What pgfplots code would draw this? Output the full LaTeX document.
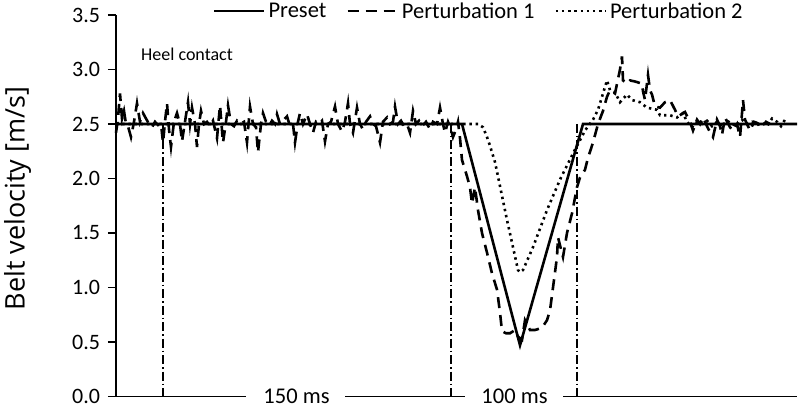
\documentclass[border=0pt]{standalone}
\usepackage{fontspec}
\setmainfont{Carlito}
\newfontfamily\labelfont{Open Sans}
\usepackage{pgfplots}
\pgfplotsset{compat=1.18}
\usepackage{pgfplotstable}

\pgfplotstableread{
x y
116 2.5
462 2.5
520 0.47
583 2.5
797 2.5
}\preset

\pgfplotstableread{
x y
116 2.42
118 2.55
120 2.78
122 2.55
124 2.62
126 2.5
128 2.48
131 2.38
134 2.52
137 2.69
140 2.52
143 2.6
146 2.55
149 2.5
152 2.47
155 2.52
158 2.49
161 2.5
163 2.33
165 2.52
167 2.69
169 2.45
171 2.29
174 2.52
177 2.6
180 2.5
182 2.34
185 2.52
188 2.7
190 2.5
192 2.65
195 2.5
197 2.29
199 2.5
201 2.62
204 2.5
207 2.52
210 2.48
213 2.53
217 2.37
220 2.67
223 2.33
226 2.52
228 2.67
231 2.5
234 2.48
237 2.53
240 2.5
244 2.52
247 2.33
250 2.66
253 2.5
256 2.47
258 2.24
261 2.5
263 2.6
266 2.52
269 2.48
272 2.53
275 2.5
277 2.59
280 2.5
283 2.53
287 2.57
290 2.48
293 2.5
295 2.33
298 2.52
300 2.6
303 2.5
307 2.59
310 2.5
313 2.42
316 2.52
319 2.5
322 2.53
325 2.34
328 2.5
331 2.52
335 2.66
338 2.5
342 2.43
345 2.52
348 2.69
350 2.5
353 2.42
357 2.65
360 2.5
363 2.45
366 2.52
370 2.57
373 2.5
376 2.48
380 2.33
383 2.52
387 2.56
390 2.5
393 2.52
395 2.66
398 2.5
401 2.53
404 2.48
407 2.5
410 2.42
413 2.62
416 2.5
419 2.53
422 2.48
426 2.52
430 2.45
433 2.52
437 2.5
440 2.65
443 2.5
445 2.42
448 2.52
451 2.45
453 2.38
456 2.45
458 2.52
460 2.37
462 2.17
467 2.02
470 1.92
472 1.77
475 1.92
478 1.71
482 1.50
487 1.32
492 1.13
497 0.98
500 0.77
502 0.60
506 0.58
510 0.58
515 0.61
518 0.55
522 0.52
525 0.70
530 0.61
535 0.61
542 0.63
547 0.70
550 0.79
553 1.00
557 1.28
558 1.46
563 1.28
567 1.50
572 1.68
577 1.92
580 2.01
585 2.08
588 2.19
593 2.33
598 2.50
603 2.62
607 2.75
610 2.81
615 2.78
620 3.0
622 3.12
623 2.90
627 2.87
630 2.90
635 2.89
642 2.87
643 2.80
645 2.72
648 2.95
650 2.81
652 2.77
655 2.66
660 2.65
665 2.70
670 2.72
675 2.63
678 2.57
685 2.61
690 2.52
693 2.44
697 2.54
700 2.50
703 2.56
708 2.46
713 2.38
717 2.54
720 2.48
722 2.40
725 2.56
730 2.47
733 2.44
737 2.50
740 2.38
742 2.60
743 2.72
745 2.54
750 2.44
754 2.52
757 2.51
762 2.48
766 2.52
770 2.5
}\pertone

\pgfplotstableread{
x y
116 2.5
465 2.5
478 2.5
483 2.47
487 2.38
490 2.3
495 2.15
500 1.93
507 1.62
513 1.37
518 1.16
520 1.14
523 1.16
533 1.37
547 1.71
560 1.99
573 2.23
585 2.44
593 2.54
598 2.63
602 2.75
607 2.90
610 2.81
615 2.79
620 2.70
627 2.77
632 2.72
640 2.70
647 2.65
657 2.63
660 2.58
670 2.58
677 2.56
683 2.60
687 2.52
692 2.47
697 2.52
702 2.5
707 2.53
712 2.48
717 2.52
722 2.47
727 2.53
732 2.5
737 2.48
742 2.54
747 2.5
752 2.52
757 2.49
762 2.51
767 2.48
772 2.55
777 2.52
781 2.48
785 2.54
}\perttwo

\begin{document}
\begin{tikzpicture}
\begin{axis}[
  at={(0pt,0pt)}, anchor=south west,
  scale only axis,
  width=681pt, height=381.5pt,
  xmin=116, xmax=797, ymin=0, ymax=3.5,
  axis x line=none,
  axis y line=left,
  y axis line style={-, line width=1.4pt, black},
  xtick=\empty,
  ytick={0,0.5,1,1.5,2,2.5,3,3.5},
  tick align=outside,
  major tick length=8pt,
  ytick style={line width=1.4pt, black},
  yticklabel style={font=\fontsize{22}{24}\selectfont, xshift=-4.5pt,
    /pgf/number format/.cd, fixed, fixed zerofill, precision=1, assume math mode=true},
  ylabel={Belt velocity [m/s]},
  ylabel style={at={(axis description cs:-0.1645,0.519)}, anchor=north, inner sep=0pt,
    font=\labelfont\fontsize{27}{30}\selectfont},
  clip=false,
  legend columns=3,
  legend style={at={(rel axis cs:0.1424,1.0105)}, anchor=west, draw=none, fill=none,
    inner sep=0pt, outer sep=0pt,
    font=\fontsize{22.5}{25}\selectfont,
    nodes={inner xsep=3pt, inner ysep=0pt},
    /tikz/every even column/.append style={column sep=17pt}},
  legend image code/.code={\draw[#1] (0pt,0pt) -- (50pt,0pt);},
]
\addplot[black, line width=2.6pt] table[x=x,y=y] {\preset};
\addlegendentry{Preset}
\addplot[black, line width=2.6pt, dash pattern=on 11pt off 7pt] table[x=x,y=y] {\pertone};
\addlegendentry{Perturbation 1}
\addplot[black, line width=2.6pt, dash pattern=on 2.4pt off 3.8pt] table[x=x,y=y] {\perttwo};
\addlegendentry{Perturbation 2}

\draw[line width=1.2pt, dash pattern=on 9pt off 3pt on 1.5pt off 3pt] (axis cs:163,2.5) -- (axis cs:163,0);
\draw[line width=1.2pt, dash pattern=on 9pt off 3pt on 1.5pt off 3pt] (axis cs:451,2.5) -- (axis cs:451,0);
\draw[line width=1.2pt, dash pattern=on 9pt off 3pt on 1.5pt off 3pt] (axis cs:577,2.5) -- (axis cs:577,0);

\draw[line width=1.4pt] (axis cs:112,0) -- (axis cs:246,0);
\draw[line width=1.4pt] (axis cs:345,0) -- (axis cs:465,0);
\draw[line width=1.4pt] (axis cs:563,0) -- (axis cs:797,0);

\node[font=\fontsize{22.5}{25}\selectfont, inner sep=0pt] at (axis cs:296.5,0) {150 ms};
\node[font=\fontsize{22.5}{25}\selectfont, inner sep=0pt] at (axis cs:514.5,0) {100 ms};
\node[font=\fontsize{18}{20}\selectfont, inner sep=0pt, anchor=west] at (axis cs:141,3.14) {Heel contact};
\end{axis}
\pgfresetboundingbox
\path[use as bounding box] (-116pt,-10.5pt) rectangle (694pt,396.5pt);
\end{tikzpicture}
\end{document}
